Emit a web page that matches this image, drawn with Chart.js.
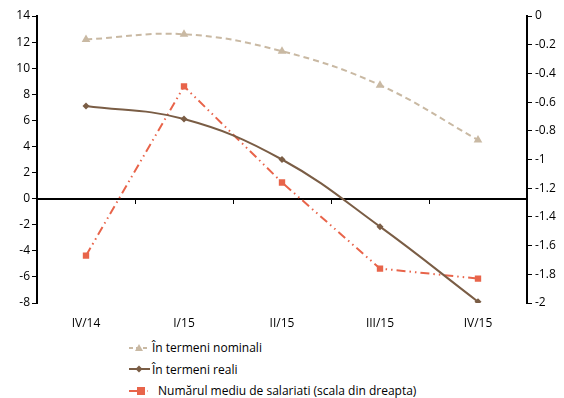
<!DOCTYPE html>
<html>
<head>
<meta charset="utf-8">
<script src="https://cdn.jsdelivr.net/npm/chart.js@4"></script>
<style>
  body { margin: 0; background: #fff; font-family: "Open Sans", sans-serif; }
  #wrap { position: relative; width: 564px; height: 398px; }
  #chartBox { position: absolute; left: 0; top: 0; width: 564px; height: 332px; }
  #legend { position: absolute; left: 128px; top: 337px; font-size: 12px; color: #000; }
  .item { height: 21.5px; display: flex; align-items: center; }
  .item svg { margin-right: 2px; }
</style>
</head>
<body>
<div id="wrap">
  <div id="chartBox"><canvas id="chart"></canvas></div>
  <div id="legend"></div>
</div>
<script>
const labels = ['IV/14', 'I/15', 'II/15', 'III/15', 'IV/15'];
const nominal = [12.2, 12.6, 11.3, 8.7, 4.5];
const real = [7.1, 6.1, 3.0, -2.15, -7.9];
const employees = [-1.67, -0.49, -1.16, -1.76, -1.83];

const seriesNames = ['În termeni nominali', 'În termeni reali', 'Numărul mediu de salariati (scala din dreapta)'];
const colNominal = '#c9b9a3';
const colReal = '#7a5d45';
const colEmp = '#e8644a';

const tickFont = { family: 'Open Sans', size: 12 };

const ctx = document.getElementById('chart');

const chart = new Chart(ctx, {
  type: 'line',
  data: {
    labels: labels,
    datasets: [
      {
        label: seriesNames[0],
        data: nominal,
        yAxisID: 'y',
        borderColor: colNominal,
        backgroundColor: colNominal,
        borderWidth: 2,
        borderDash: [6, 4],
        tension: 0.4,
        pointStyle: 'triangle',
        pointRadius: 5,
        pointBorderWidth: 0
      },
      {
        label: seriesNames[1],
        data: real,
        yAxisID: 'y',
        borderColor: colReal,
        backgroundColor: colReal,
        borderWidth: 2,
        tension: 0.4,
        pointStyle: 'rectRot',
        pointRadius: 3.5,
        pointBorderWidth: 0
      },
      {
        label: seriesNames[2],
        data: employees,
        yAxisID: 'y1',
        borderColor: colEmp,
        backgroundColor: colEmp,
        borderWidth: 2,
        borderDash: [9, 4, 1.5, 4, 1.5, 4],
        tension: 0,
        pointStyle: 'rect',
        pointRadius: 4.5,
        pointBorderWidth: 0
      }
    ]
  },
  options: {
    responsive: true,
    maintainAspectRatio: false,
    animation: false,
    layout: { padding: { left: 0, right: 0, top: 16, bottom: 0 } },
    plugins: { legend: { display: false }, tooltip: { enabled: false } },
    scales: {
      x: {
        type: 'category',
        offset: true,
        border: { display: false },
        grid: { display: false },
        ticks: { color: '#000', font: tickFont, padding: 5 },
        afterFit: (scale) => { scale.height = 29; }
      },
      x2: {
        type: 'category',
        labels: labels,
        position: { y: 0 },
        offset: true,
        border: { display: true, color: '#000', width: 2 },
        grid: { offset: true, drawOnChartArea: false, drawTicks: true, tickLength: 4, color: '#000', lineWidth: 1 },
        ticks: { display: false }
      },
      y: {
        position: 'left',
        min: -8,
        max: 14,
        border: { color: '#000', width: 2 },
        grid: { drawOnChartArea: false, tickLength: 5, color: '#000', lineWidth: 1 },
        ticks: { stepSize: 2, color: '#000', font: tickFont, padding: 2 },
        afterFit: (scale) => { scale.width = 37; }
      },
      y1: {
        position: 'right',
        min: -2,
        max: 0,
        border: { color: '#000', width: 2 },
        grid: { drawOnChartArea: false, tickLength: 5, color: '#000', lineWidth: 1 },
        ticks: {
          stepSize: 0.2,
          color: '#000',
          font: tickFont,
          padding: 3,
          callback: (v) => String(Number(v.toFixed(1)))
        },
        afterFit: (scale) => { scale.width = 37; }
      }
    }
  }
});

// legend below the chart, one item per row
const legendEl = document.getElementById('legend');
const samples = [
  '<svg width="22" height="10"><line x1="1" y1="5" x2="21" y2="5" stroke="' + colNominal + '" stroke-width="2" stroke-dasharray="4,3"/><polygon points="11,1 15,8 7,8" fill="' + colNominal + '"/></svg>',
  '<svg width="22" height="10"><line x1="1" y1="5" x2="22" y2="5" stroke="' + colReal + '" stroke-width="2"/><polygon points="11,1.5 14.5,5 11,8.5 7.5,5" fill="' + colReal + '"/></svg>',
  '<svg width="28" height="10"><line x1="1" y1="5" x2="20" y2="5" stroke="' + colEmp + '" stroke-width="2" stroke-dasharray="9,4,1.5,4"/><rect x="9" y="1" width="8" height="8" fill="' + colEmp + '"/></svg>'
];
seriesNames.forEach((name, i) => {
  const row = document.createElement('div');
  row.className = 'item';
  row.innerHTML = samples[i] + '<span>' + name + '</span>';
  legendEl.appendChild(row);
});
</script>
</body>
</html>
